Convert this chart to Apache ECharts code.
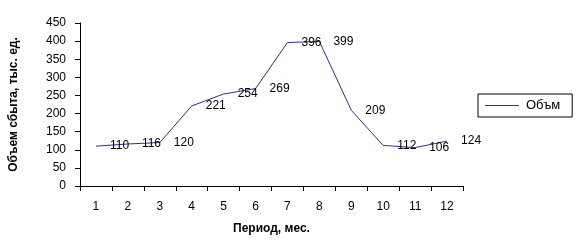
<!DOCTYPE html>
<html><head><meta charset="utf-8">
<script src="https://cdn.jsdelivr.net/npm/echarts@6/dist/echarts.min.js"></script>
<style>html,body{margin:0;padding:0;background:#fff}#c{width:578px;height:242px}</style>
</head><body><div id="c"></div>
<script>
const categories = ['1','2','3','4','5','6','7','8','9','10','11','12'];
const volumeValues = [110, 116, 120, 221, 254, 269, 396, 399, 209, 112, 106, 124];
const yTicks = [0, 50, 100, 150, 200, 250, 300, 350, 400, 450];
const seriesName = 'Объм';
const xTitle = 'Период, мес.';
const yTitle = 'Объем сбыта, тыс. ед.';

const font = 'Liberation Sans, Arial, sans-serif';
const chart = echarts.init(document.getElementById('c'), null, {renderer: 'canvas'});
chart.setOption({
  animation: false,
  backgroundColor: '#fff',
  grid: {left: 78, right: 115, top: 23, bottom: 56, containLabel: false},
  legend: {
    data: [{name: seriesName, icon: 'rect'}], left: 478, top: 94, orient: 'horizontal',
    borderColor: '#000', borderWidth: 1, padding: [5, 12, 5, 7],
    itemWidth: 34, itemHeight: 1, itemGap: 4,
    textStyle: {fontFamily: font, fontSize: 13, color: '#000', padding: [0, 0, 0, 2]}
  },
  xAxis: {
    type: 'category', data: categories, boundaryGap: true,
    name: xTitle, nameLocation: 'middle', nameGap: 37,
    nameTextStyle: {fontFamily: font, fontSize: 12, fontWeight: 'bold', color: '#000'},
    axisLine: {lineStyle: {color: '#000', width: 1}},
    axisTick: {show: true, inside: false, length: 5, lineStyle: {color: '#000'}},
    axisLabel: {fontFamily: font, fontSize: 12, color: '#000', margin: 15},
    splitLine: {show: false}
  },
  yAxis: {
    type: 'value', min: yTicks[0], max: yTicks[yTicks.length - 1], interval: 50,
    name: yTitle, nameLocation: 'middle', nameGap: 60, nameRotate: 90,
    nameTextStyle: {fontFamily: font, fontSize: 12, fontWeight: 'bold', color: '#000'},
    axisLine: {show: true, lineStyle: {color: '#000', width: 1}},
    axisTick: {show: true, inside: false, length: 5, lineStyle: {color: '#000'}},
    axisLabel: {fontFamily: font, fontSize: 12, color: '#000', margin: 14},
    splitLine: {show: false}
  },
  series: [{
    name: seriesName, type: 'line', data: volumeValues,
    symbol: 'circle', symbolSize: 0, showSymbol: true,
    lineStyle: {color: '#2e2e9e', width: 1},
    itemStyle: {color: '#2e2e9e'},
    label: {show: true, position: 'right', distance: 14, fontFamily: font, fontSize: 12, color: '#000'}
  }]
});
</script></body></html>
